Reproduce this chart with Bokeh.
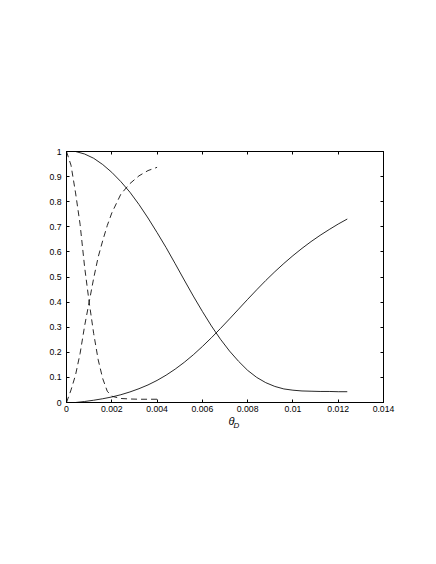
from bokeh.plotting import figure
from bokeh.models import Range1d, FixedTicker, LinearAxis, CustomJSTickFormatter, Title
from bokeh.embed import file_html
from bokeh.resources import INLINE

# ---- data ----
x_solid = [0.0004, 0.0008, 0.0012, 0.0016, 0.0020, 0.0024, 0.0028, 0.0032, 0.0036, 0.0040,
           0.0044, 0.0048, 0.0052, 0.0056, 0.0060, 0.0064, 0.0068, 0.0072, 0.0076, 0.0080,
           0.0084, 0.0088, 0.0092, 0.0096, 0.0100, 0.0104, 0.0108, 0.0112, 0.0116, 0.0120, 0.0124]
solid_down = [1.000, 0.990, 0.973, 0.948, 0.917, 0.880, 0.838, 0.789, 0.735, 0.677,
              0.617, 0.553, 0.488, 0.424, 0.363, 0.305, 0.252, 0.205, 0.164, 0.128,
              0.100, 0.079, 0.064, 0.054, 0.049, 0.046, 0.045, 0.044, 0.044, 0.043, 0.043]
solid_up = [0.000, 0.004, 0.009, 0.015, 0.022, 0.031, 0.042, 0.055, 0.070, 0.088,
            0.109, 0.133, 0.160, 0.190, 0.223, 0.258, 0.295, 0.333, 0.372, 0.411,
            0.449, 0.486, 0.521, 0.554, 0.585, 0.614, 0.641, 0.666, 0.689, 0.711, 0.731]

x_dash = [0.0000, 0.0002, 0.0004, 0.0006, 0.0008, 0.0010, 0.0012, 0.0014, 0.0016, 0.0018,
          0.0020, 0.0024, 0.0028, 0.0032, 0.0036, 0.0040]
dash_down = [1.000, 0.945, 0.835, 0.710, 0.540, 0.400, 0.275, 0.170, 0.095, 0.045,
             0.025, 0.016, 0.014, 0.013, 0.013, 0.013]
dash_up = [0.000, 0.050, 0.110, 0.195, 0.305, 0.400, 0.495, 0.580, 0.645, 0.705,
           0.755, 0.830, 0.872, 0.903, 0.924, 0.937]

x_ticks = [0, 0.002, 0.004, 0.006, 0.008, 0.010, 0.012, 0.014]
x_tick_labels = ["0", "0.002", "0.004", "0.006", "0.008", "0.01", "0.012", "0.014"]
y_ticks = [0, 0.1, 0.2, 0.3, 0.4, 0.5, 0.6, 0.7, 0.8, 0.9, 1.0]
y_tick_labels = ["0", "0.1", "0.2", "0.3", "0.4", "0.5", "0.6", "0.7", "0.8", "0.9", "1"]
x_label_main = "θ"
x_label_sub = "D"

FONT = "Liberation Sans"
LBL_SIZE = "8.7px"

p = figure(frame_width=317, frame_height=251,
           min_border_left=66, min_border_top=151, min_border_right=45, min_border_bottom=140,
           x_range=Range1d(0, 0.014), y_range=Range1d(0, 1),
           output_backend="svg", toolbar_location=None, x_axis_location=None, y_axis_location=None)
p.grid.visible = False
p.outline_line_color = "black"
p.background_fill_color = "white"
p.border_fill_color = "white"

def style_axis(ax, ticks, labels=None):
    ax.ticker = FixedTicker(ticks=ticks)
    ax.major_tick_in = 3
    ax.major_tick_out = 0
    ax.minor_tick_line_color = None
    ax.axis_line_color = "black"
    ax.major_tick_line_color = "black"
    ax.major_label_text_font = FONT
    ax.major_label_text_font_size = LBL_SIZE
    ax.major_label_text_color = "black"
    if labels is None:
        ax.formatter = CustomJSTickFormatter(code="return ''")
    else:
        ax.major_label_overrides = {t: l for t, l in zip(ticks, labels)}

bottom = LinearAxis()
style_axis(bottom, x_ticks, x_tick_labels)
bottom.major_label_standoff = 3
p.add_layout(bottom, "below")

left = LinearAxis()
style_axis(left, y_ticks, y_tick_labels)
left.major_label_standoff = 5
p.add_layout(left, "left")

top = LinearAxis()
style_axis(top, x_ticks)
top.major_label_standoff = 0
p.add_layout(top, "above")

right = LinearAxis()
style_axis(right, y_ticks)
right.major_label_standoff = 0
p.add_layout(right, "right")

lw = 0.9
col = "#111111"
p.line(x_solid, solid_down, line_color=col, line_width=lw)
p.line(x_solid, solid_up, line_color=col, line_width=lw)
p.line(x_dash, dash_down, line_color=col, line_width=lw, line_dash="6 4")
p.line(x_dash, dash_up, line_color=col, line_width=lw, line_dash="6 4")

t1 = Title(text=x_label_main, align="left", offset=162, standoff=-4,
           text_font=FONT, text_font_style="italic", text_font_size="11px", text_color="black")
t2 = Title(text=x_label_sub, align="left", offset=167, standoff=-11,
           text_font=FONT, text_font_style="italic", text_font_size="8px", text_color="black")
p.add_layout(t1, "below")
p.add_layout(t2, "below")

open("out.html", "w").write(file_html(p, INLINE))
